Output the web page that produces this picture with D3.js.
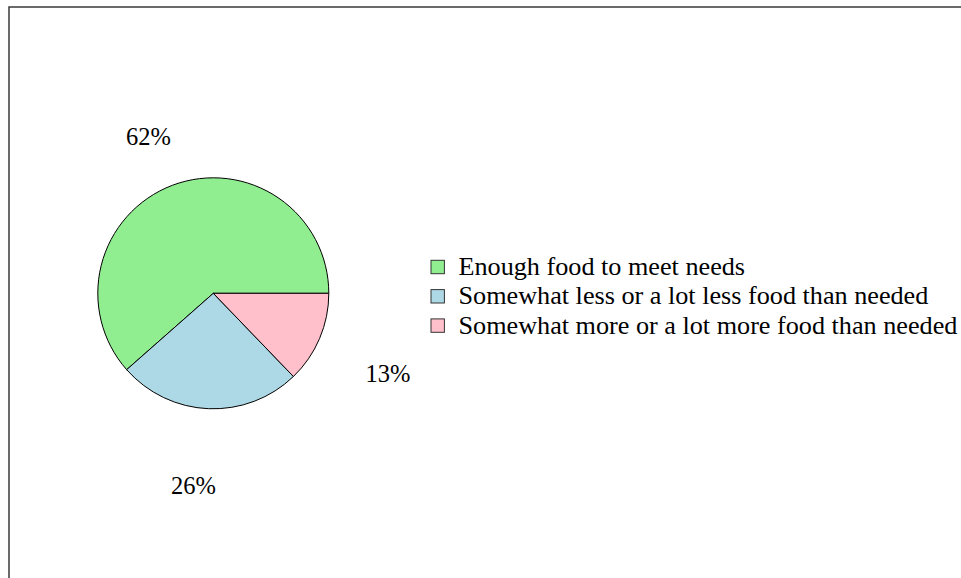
<!DOCTYPE html>
<html>
<head>
    <meta charset="UTF-8">
    <title>Food sufficiency pie</title>
    <script src="https://d3js.org/d3.v7.min.js"></script>
    <style type="text/css">
        body { margin: 0; background: white; }
        text { font-family: "Liberation Serif", "Times New Roman", serif; fill: black; }
    </style>
</head>
<body>
    <svg id="chart"></svg>

    <script>
        // data
        const categories = ["Enough food to meet needs",
                            "Somewhat less or a lot less food than needed",
                            "Somewhat more or a lot more food than needed"];
        const shares = [61.5, 25.7, 12.8];
        const labels = ["62%", "26%", "13%"];
        const colors = ["#90EE90", "#ADD8E6", "#FFC0CB"];

        const WIDTH = 961;
        const HEIGHT = 578;
        const CX = 213.3, CY = 293.3, R = 115.5;
        // how far out each percent label sits, plus a small nudge
        const label_radius = [169, 193, 192];
        const label_nudge = [[-5, 2], [-12, 0], [-2, 5]];

        const svg = d3.select("#chart")
            .attr("width", WIDTH)
            .attr("height", HEIGHT);

        // the frame runs off the right and bottom edges
        svg.append("rect")
            .attr("x", 9)
            .attr("y", 7)
            .attr("width", WIDTH + 20)
            .attr("height", HEIGHT + 20)
            .style("fill", "none")
            .style("stroke", "#3a3a3a")
            .style("stroke-width", 1.5);

        // slices go counter-clockwise from 3 o'clock, like base R
        const pie = d3.pie()
            .sort(null)
            .value((d) => d)
            .startAngle(Math.PI / 2)
            .endAngle(Math.PI / 2 - 2 * Math.PI);

        const arcs = pie(shares);
        const arc = d3.arc().innerRadius(0).outerRadius(R);

        const g = svg.append("g")
            .attr("transform", `translate(${CX}, ${CY})`);

        g.selectAll(".slice").data(arcs)
            .enter().append("path")
            .attr("class", "slice")
            .attr("d", arc)
            .style("fill", (d, i) => colors[i])
            .style("stroke", "black")
            .style("stroke-width", 1);

        const label_pos = function(d, i) {
            const c = d3.arc().innerRadius(label_radius[i]).outerRadius(label_radius[i]).centroid(d);
            return [c[0] + label_nudge[i][0], c[1] + label_nudge[i][1]];
        }

        g.selectAll(".pct").data(arcs)
            .enter().append("text")
            .attr("class", "pct")
            .attr("x", (d, i) => label_pos(d, i)[0])
            .attr("y", (d, i) => label_pos(d, i)[1])
            .attr("dy", "0.33em")
            .style("text-anchor", "middle")
            .style("font-size", "24.5px")
            .text((d, i) => labels[i]);

        //---------Legend-----------
        const legend_y = d3.scalePoint()
            .domain(categories)
            .range([267, 325.6])

        const legend = svg.append("g");

        legend.selectAll(".key_rect").data(categories)
            .enter().append("rect")
            .attr("class", "key_rect")
            .attr("x", 431)
            .attr("y", (d) => legend_y(d) - 6.7)
            .attr("width", 13.4)
            .attr("height", 13.4)
            .style("fill", (d, i) => colors[i])
            .style("stroke", "#333")
            .style("stroke-width", 1);

        legend.selectAll(".key_text").data(categories)
            .enter().append("text")
            .attr("class", "key_text")
            .attr("x", 458.5)
            .attr("y", (d) => legend_y(d) + 8)
            .style("font-size", "26.2px")
            .text((d) => d);
    </script>
</body>
</html>
